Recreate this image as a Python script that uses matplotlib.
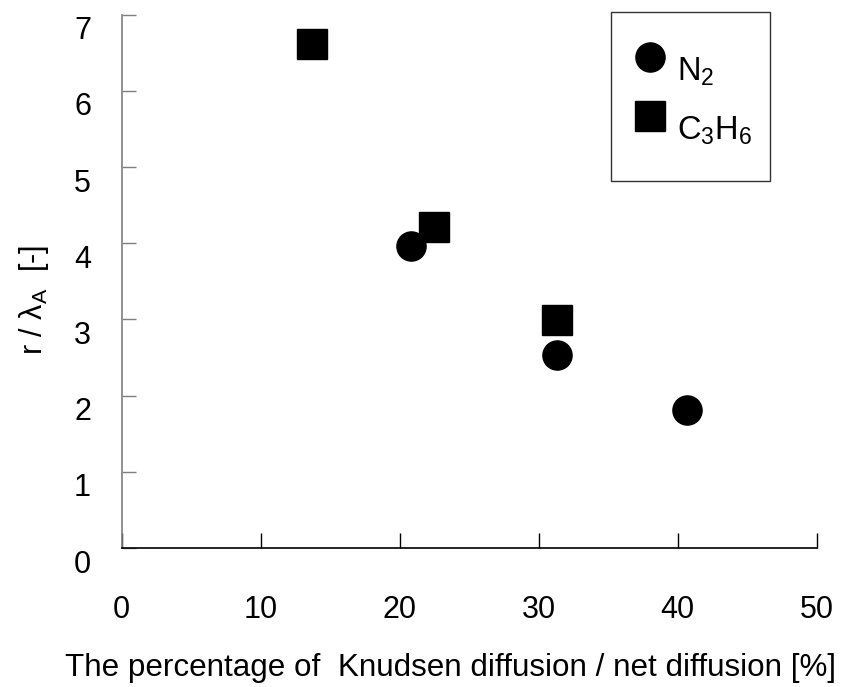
"""
Pore radius to mean free path ratio vs Knudsen diffusion share.
"""

import numpy as np
import matplotlib
matplotlib.use('Agg')
import matplotlib.pyplot as plt
from matplotlib.legend_handler import HandlerLine2D
from matplotlib.patches import Rectangle
from matplotlib.transforms import ScaledTranslation

plt.rcParams.update({
    'font.family': ['Liberation Sans', 'DejaVu Sans'],
    'mathtext.fontset': 'custom',
    'mathtext.rm': 'Liberation Sans',
    'mathtext.it': 'Liberation Sans:italic',
    'mathtext.bf': 'Liberation Sans:bold',
})

# measured points
n2_knudsen = [20.8, 31.3, 40.7]
n2_ratio = [3.97, 2.54, 1.81]
c3h6_knudsen = [13.7, 22.5, 31.3]
c3h6_ratio = [6.62, 4.21, 2.99]

x_ticks = [0, 10, 20, 30, 40, 50]
y_ticks = [0, 1, 2, 3, 4, 5, 6, 7]


class RaisedHandler(HandlerLine2D):
    """Legend marker sitting level with the top of the label text."""
    def create_artists(self, legend, orig_handle, xdescent, ydescent,
                       width, height, fontsize, trans):
        arts = super().create_artists(legend, orig_handle, xdescent, ydescent,
                                      width, height, fontsize, trans)
        for a in arts:
            a.set_ydata(np.asarray(a.get_ydata()) + 0.37 * fontsize)
        return arts


fig = plt.figure(figsize=(8.42, 6.87), dpi=100)
ax = fig.add_axes([0.1445, 0.2023, 0.8255, 0.7763])

ax.plot(n2_knudsen, n2_ratio, ls='none', marker='o', ms=21,
        color='black', mec='black', label='N$_2$')
ax.plot(c3h6_knudsen, c3h6_ratio, ls='none', marker='s', ms=21,
        color='black', mec='black', label='C$_3$H$_6$')

ax.set_xlim(0, 50)
ax.set_ylim(0, 7)
ax.set_xticks(x_ticks)
ax.set_yticks(y_ticks)

for side in ('top', 'right'):
    ax.spines[side].set_visible(False)
ax.spines['left'].set_color('#7f7f7f')
ax.spines['left'].set_linewidth(1.2)
ax.spines['bottom'].set_color('black')
ax.spines['bottom'].set_linewidth(1.2)

ax.tick_params(axis='x', direction='in', length=10.5, width=1.0,
               color='black', pad=34, labelsize=22)
ax.tick_params(axis='y', direction='in', length=10, width=1.0,
               color='#7f7f7f', pad=22, labelsize=22, labelcolor='black')
# y numbers sit a little below their ticks
drop = ScaledTranslation(0, -0.13, fig.dpi_scale_trans)
for lab in ax.get_yticklabels():
    lab.set_transform(lab.get_transform() + drop)

ax.set_xlabel('The percentage of  Knudsen diffusion / net diffusion [%]',
              fontsize=22.6)
ax.xaxis.set_label_coords(0.4724, -0.196)
ax.set_ylabel('r / λ$_\\mathrm{A}$  [-]', fontsize=22)
ax.yaxis.set_label_coords(-0.102, 0.465)

# legend box drawn separately so its padding can be set freely
fig.add_artist(Rectangle((0.7253, 0.7365), 0.1892, 0.2456,
                         transform=fig.transFigure, fill=False,
                         edgecolor='#333333', linewidth=1.0))
leg = ax.legend(loc='upper left', bbox_to_anchor=(0.7545, 0.919),
                bbox_transform=fig.transFigure,
                fontsize=23.5, frameon=False, borderpad=0,
                labelspacing=0.8, handlelength=0.9, handletextpad=0.38,
                borderaxespad=0,
                handler_map={matplotlib.lines.Line2D: RaisedHandler(numpoints=1)})

fig.savefig('out.png', dpi=100)
plt.close(fig)
print('Saved: out.png')
